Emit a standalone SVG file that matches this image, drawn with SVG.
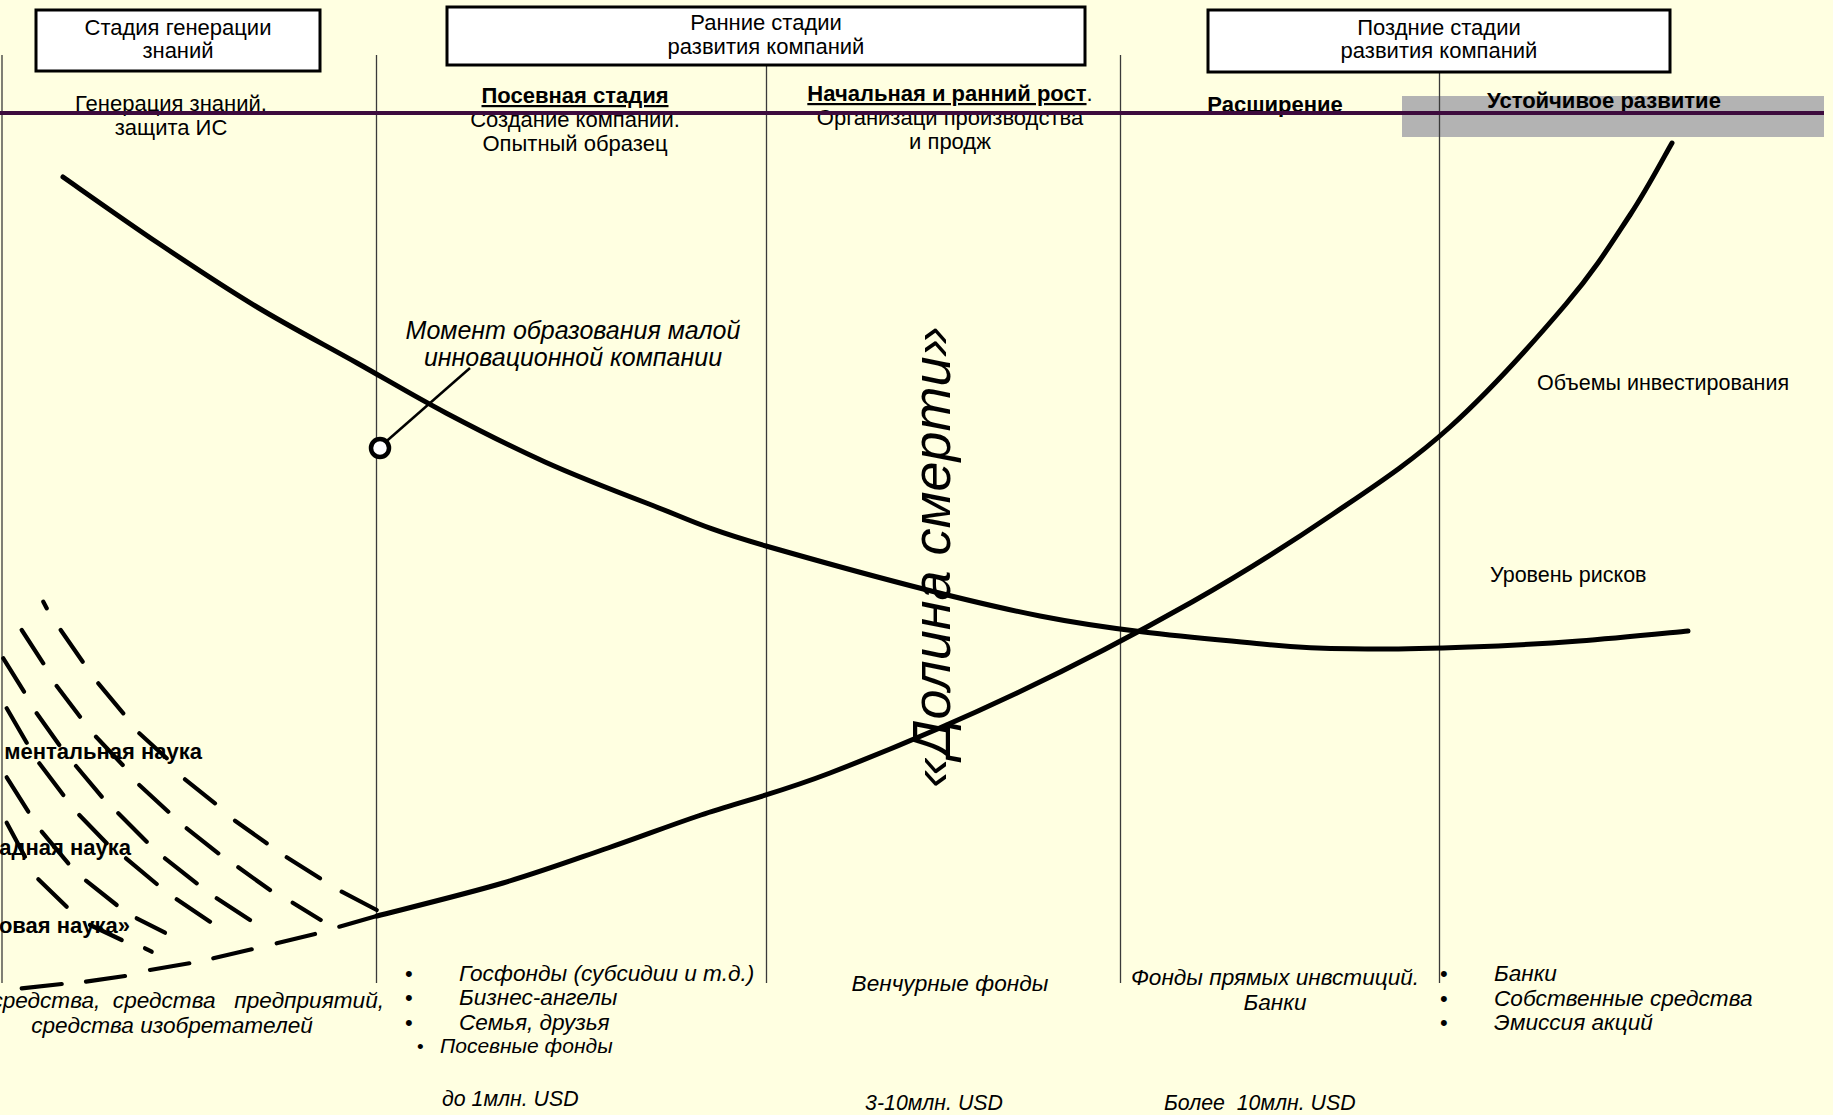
<svg xmlns="http://www.w3.org/2000/svg" width="1833" height="1115" viewBox="0 0 1833 1115">
<defs>
<style>
.t{font-family:"Liberation Sans",Arial,sans-serif;font-size:22px;fill:#000}
.b{font-weight:bold}
.i{font-style:italic;font-size:22.6px}
.s{font-size:21.3px}
.c{text-anchor:middle}
.e{text-anchor:end}
.u{text-decoration:underline}
.box{fill:#fff;stroke:#000;stroke-width:3}
.vl{stroke:#3a3a3a;stroke-width:1.3}
.curve{fill:none;stroke:#000;stroke-width:5;stroke-linecap:round;stroke-linejoin:round}
.dash{fill:none;stroke:#000;stroke-width:4.2;stroke-linecap:round}
</style>
</defs>
<rect width="1833" height="1115" fill="#FFFFE1"/>

<g id="grid">
<rect x="1402" y="96" width="422" height="41" fill="#B3B3B3"/>
<line class="vl" x1="2" y1="55" x2="2" y2="983"/>
<line class="vl" x1="376.5" y1="55" x2="376.5" y2="983"/>
<line class="vl" x1="766.5" y1="65" x2="766.5" y2="983"/>
<line class="vl" x1="1120.5" y1="55" x2="1120.5" y2="983"/>
<line class="vl" x1="1439.5" y1="72" x2="1439.5" y2="983"/>
</g>

<g id="box-knowledge">
<rect class="box" x="36" y="10" width="284" height="61"/>
<text class="t c" x="178" y="35">Стадия генерации</text>
<text class="t c" x="178" y="58">знаний</text>
</g>
<g id="box-early">
<rect class="box" x="447" y="7" width="638" height="58"/>
<text class="t c" x="766" y="30">Ранние стадии</text>
<text class="t c" x="766" y="54">развития компаний</text>
</g>
<g id="box-late">
<rect class="box" x="1208" y="10" width="462" height="62"/>
<text class="t c" x="1439" y="35">Поздние стадии</text>
<text class="t c" x="1439" y="58">развития компаний</text>
</g>

<g id="stage-labels">
<text class="t c" x="171" y="111">Генерация знаний,</text>
<text class="t c" x="171" y="135">защита ИС</text>
<text class="t c b u" x="575" y="103">Посевная стадия</text>
<text class="t c" x="575" y="127">Создание компании.</text>
<text class="t c" x="575" y="151">Опытный образец</text>
<text class="t c" x="950" y="101"><tspan class="b u">Начальная и ранний рост</tspan>.</text>
<text class="t c" x="950" y="125">Организаци производства</text>
<text class="t c" x="950" y="149">и продж</text>
<text class="t c b" x="1275" y="112">Расширение</text>
<text class="t c b" x="1604" y="108">Устойчивое развитие</text>
</g>

<line id="axis" x1="0" y1="113" x2="1824" y2="113" stroke="#3D0B3D" stroke-width="4"/>

<g id="science-labels">
<text class="t b e" x="202" y="759">ментальная наука</text>
<text class="t b e" x="131" y="855">адная наука</text>
<text class="t b e" x="130" y="933">овая наука»</text>
</g>

<g id="connectors">
<path class="dash" d="M43.3 601.7 L46.7 608.3 M60.7 630 L82.7 661.7 M98.3 683.3 L123.3 713.3 M139.3 733.3 L166.7 758.3 M185 779.3 L215 803.3 M235 820.7 L266.7 843.3 M286.7 857.3 L320 878.3 M341.7 891.7 L376.7 910"/>
<path class="dash" d="M21.7 630 L43.3 663.3 M56.7 686 L80 716.7 M96 736.7 L122.7 765 M139.3 785 L168.3 811.7 M186.7 828.3 L218.3 853.3 M238.3 867.3 L270 890 M292.7 902.7 L320.7 920"/>
<path class="dash" d="M3.3 658.3 L24 691.7 M36.7 713.3 L59.3 745 M76 766 L101.7 796.7 M118.3 813.3 L146.7 841.7 M165 858.3 L196.7 883.3 M216.7 898.3 L250 920"/>
<path class="dash" d="M6.7 708.3 L26.7 742.7 M39.3 763.3 L63.3 795 M79.3 815 L106.7 843.3 M126 858.3 L156.7 884 M176.7 899.3 L210 921.7"/>
<path class="dash" d="M6.7 777.3 L28.3 811.7 M41.7 831.7 L68.3 863.3 M86 880.7 L116.7 905 M136.7 918.3 L165 932.7"/>
<path class="dash" d="M6.7 822.7 L25 856.7 M38.3 879.3 L66.7 906.7 M90 925 L121.7 940 M145 948.3 L151.7 951.7"/>
<path class="dash" d="M21.7 988.3 L61.7 984 M86 981.7 L125 976 M150 970 L189.3 963.3 M213.3 958.3 L251.7 949.3 M276.7 943.3 L315 934 M339.3 926.7 L376.7 916"/>
<path id="investment-curve" class="curve" d="M377 916 C398 910.5 464.5 894.3 503 883 C541.5 871.7 575 859.3 608 848 C641 836.7 664 827.5 701 815 C738 802.5 777.3 793.3 830 773 C882.7 752.7 956.7 721.5 1017 693 C1077.3 664.5 1139.3 631.8 1192 602 C1244.7 572.2 1290 543.2 1333 514 C1376 484.8 1411.2 462 1450 427 C1488.8 392 1536 339.3 1566 304 C1596 268.7 1612.3 241.8 1630 215 C1647.7 188.2 1665 155 1672 143"/>
<path id="risk-curve" class="curve" d="M63 177 C78.8 188 125.7 221.3 158 243 C190.3 264.7 223.8 287 257 307 C290.2 327 325.5 345.3 357 363 C388.5 380.7 414.7 396.5 446 413 C477.3 429.5 511.2 446.8 545 462 C578.8 477.2 612.2 490 649 504 C685.8 518 700.8 527.3 766 546 C831.2 564.7 957.3 599.7 1040 616 C1122.7 632.3 1207.3 638.5 1262 644 C1316.7 649.5 1333.3 648.5 1368 649 C1402.7 649.5 1434.8 648.3 1470 647 C1505.2 645.7 1542.7 643.7 1579 641 C1615.3 638.3 1669.8 632.7 1688 631"/>
<line x1="381" y1="446" x2="470" y2="368" stroke="#000" stroke-width="2.5"/>
<circle cx="380" cy="448" r="9" fill="#fff" stroke="#000" stroke-width="4.5"/>
</g>

<g id="annotations">
<text class="t c i" x="573" y="339" style="font-size:25px">Момент образования малой</text>
<text class="t c i" x="573" y="366" style="font-size:25px">инновационной компании</text>
<text class="t" x="1537" y="390" style="font-size:21.5px">Объемы инвестирования</text>
<text class="t" x="1490" y="582" style="font-size:21.5px">Уровень рисков</text>
<text class="t c i" transform="translate(950 557) rotate(-90)" style="font-size:54px">«Долина смерти»</text>
</g>

<g id="funding">
<text class="t i e" x="384" y="1008" style="white-space:pre">средства,  средства   предприятий,</text>
<text class="t i c" x="172" y="1033">средства изобретателей</text>
<text class="t" x="405" y="981">•</text>
<text class="t" x="405" y="1005">•</text>
<text class="t" x="405" y="1030">•</text>
<text class="t i" x="459" y="981">Госфонды (субсидии и т.д.)</text>
<text class="t i" x="459" y="1005">Бизнес-ангелы</text>
<text class="t i" x="459" y="1030">Семья, друзья</text>
<text class="t" x="417" y="1053" style="font-size:19px">•</text>
<text class="t i" x="440" y="1053" style="font-size:21px">Посевные фонды</text>
<text class="t i s" x="442" y="1106">до 1млн. USD</text>
<text class="t i c" x="950" y="991">Венчурные фонды</text>
<text class="t i c s" x="934" y="1110">3-10млн. USD</text>
<text class="t i c" x="1275" y="985">Фонды прямых инвстиций.</text>
<text class="t i c" x="1275" y="1010">Банки</text>
<text class="t i s" x="1164" y="1110" style="white-space:pre">Более  10млн. USD</text>
<text class="t" x="1440" y="981">•</text>
<text class="t" x="1440" y="1006">•</text>
<text class="t" x="1440" y="1030">•</text>
<text class="t i" x="1494" y="981">Банки</text>
<text class="t i" x="1494" y="1006">Собственные средства</text>
<text class="t i" x="1494" y="1030">Эмиссия акций</text>
</g>
</svg>
